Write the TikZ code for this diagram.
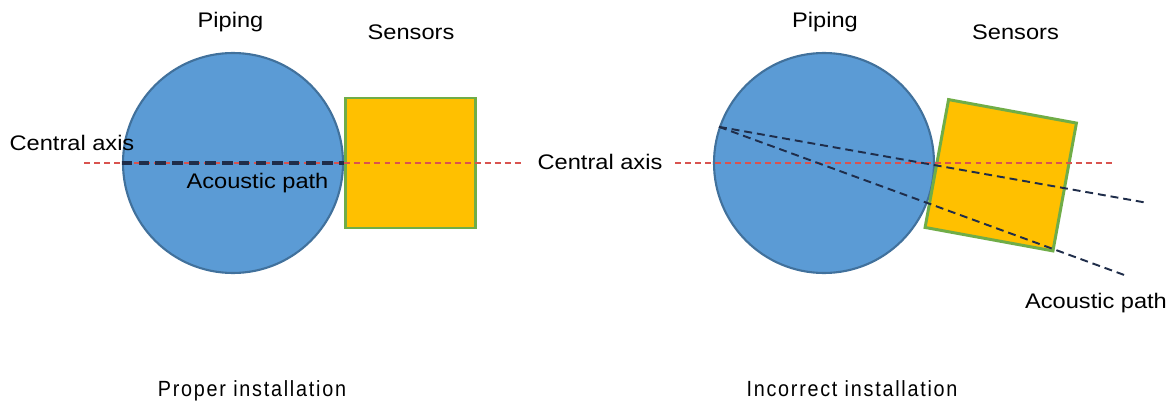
\documentclass[tikz,border=0pt]{standalone}
\usepackage{fontspec}
\setmainfont{Liberation Sans}[FakeStretch=1.12]
\newfontfamily\captionfont{Liberation Sans}[FakeStretch=0.9,LetterSpace=8]
\usepackage{tikz}
\usetikzlibrary{
  positioning,
  calc
}
\definecolor{ipPipe}{HTML}{5B9BD5}
\definecolor{ipPipeLine}{HTML}{41719C}
\definecolor{ipSensor}{HTML}{FFC000}
\definecolor{ipSensorLine}{HTML}{70AD47}
\definecolor{ipAxis}{HTML}{D9534F}
\definecolor{ipPath}{HTML}{1F2D4A}
\tikzset{
  pipe/.style={
    circle, draw=ipPipeLine, fill=ipPipe, line width=1.2pt,
    minimum size=44mm, inner sep=0pt
  },
  sensor/.style={
    rectangle, draw=ipSensorLine, fill=ipSensor, line width=1.7pt,
    minimum size=26mm, inner sep=0pt
  },
  lbl/.style={font=\fontsize{12}{14}\selectfont, inner sep=0pt, anchor=base},
  caption/.style={font=\captionfont\fontsize{12.5}{14}\selectfont, inner sep=0pt, anchor=base},
  axisline/.style={ipAxis, line width=0.8pt, dash pattern=on 3.4pt off 2.3pt},
  pathline/.style={ipPath, line width=1.1pt, dash pattern=on 4.5pt off 2.8pt},
  pathbold/.style={ipPath, line width=2pt, dash pattern=on 6pt off 3.5pt}
}

\begin{document}
\begin{tikzpicture}
  \useasboundingbox (0,0) rectangle (23.52,8.02);

  \node[pipe] (pipeL) at (4.66,4.76) {};
  \node[sensor, right=0pt of pipeL] (sensorL) {};
  \node[lbl] (pipingL) at (4.61,7.46) {Piping};
  \node[lbl] (sensorsL) at (8.22,7.22) {Sensors};
  \coordinate (axisLs) at (1.68,4.76);
  \coordinate (axisLe) at (10.46,4.76);
  \draw[axisline] (axisLs) -- (axisLe);
  \draw[pathbold] (pipeL.west) -- (pipeL.east);
  \node[lbl] (axisL) at (1.44,5.0) {Central axis};
  \node[lbl] (pathL) at (5.15,4.26) {Acoustic path};
  \node[caption] (capL) at (5.04,0.1) {Proper installation};

  \node[pipe] (pipeR) at (16.48,4.76) {};
  \node[sensor, rotate=-10.4] (sensorR) at (20.015,4.515) {};
  \node[lbl] (pipingR) at (16.5,7.46) {Piping};
  \node[lbl] (sensorsR) at (20.31,7.22) {Sensors};
  \node[lbl] (axisR) at (12.0,4.62) {Central axis};
  \coordinate (axisRs) at (13.5,4.76);
  \coordinate (axisRe) at (22.3,4.76);
  \draw[axisline] (axisRs) -- (axisRe);
  \coordinate (srcR) at (pipeR.161);
  \coordinate (endA) at (22.96,3.96);
  \coordinate (endB) at (22.54,2.5);
  \draw[pathline] (srcR) -- (endA);
  \draw[pathline] (srcR) -- (endB);
  \node[lbl] (pathR) at (21.92,1.86) {Acoustic path};
  \node[caption] (capR) at (17.04,0.1) {Incorrect installation};
\end{tikzpicture}
\end{document}
